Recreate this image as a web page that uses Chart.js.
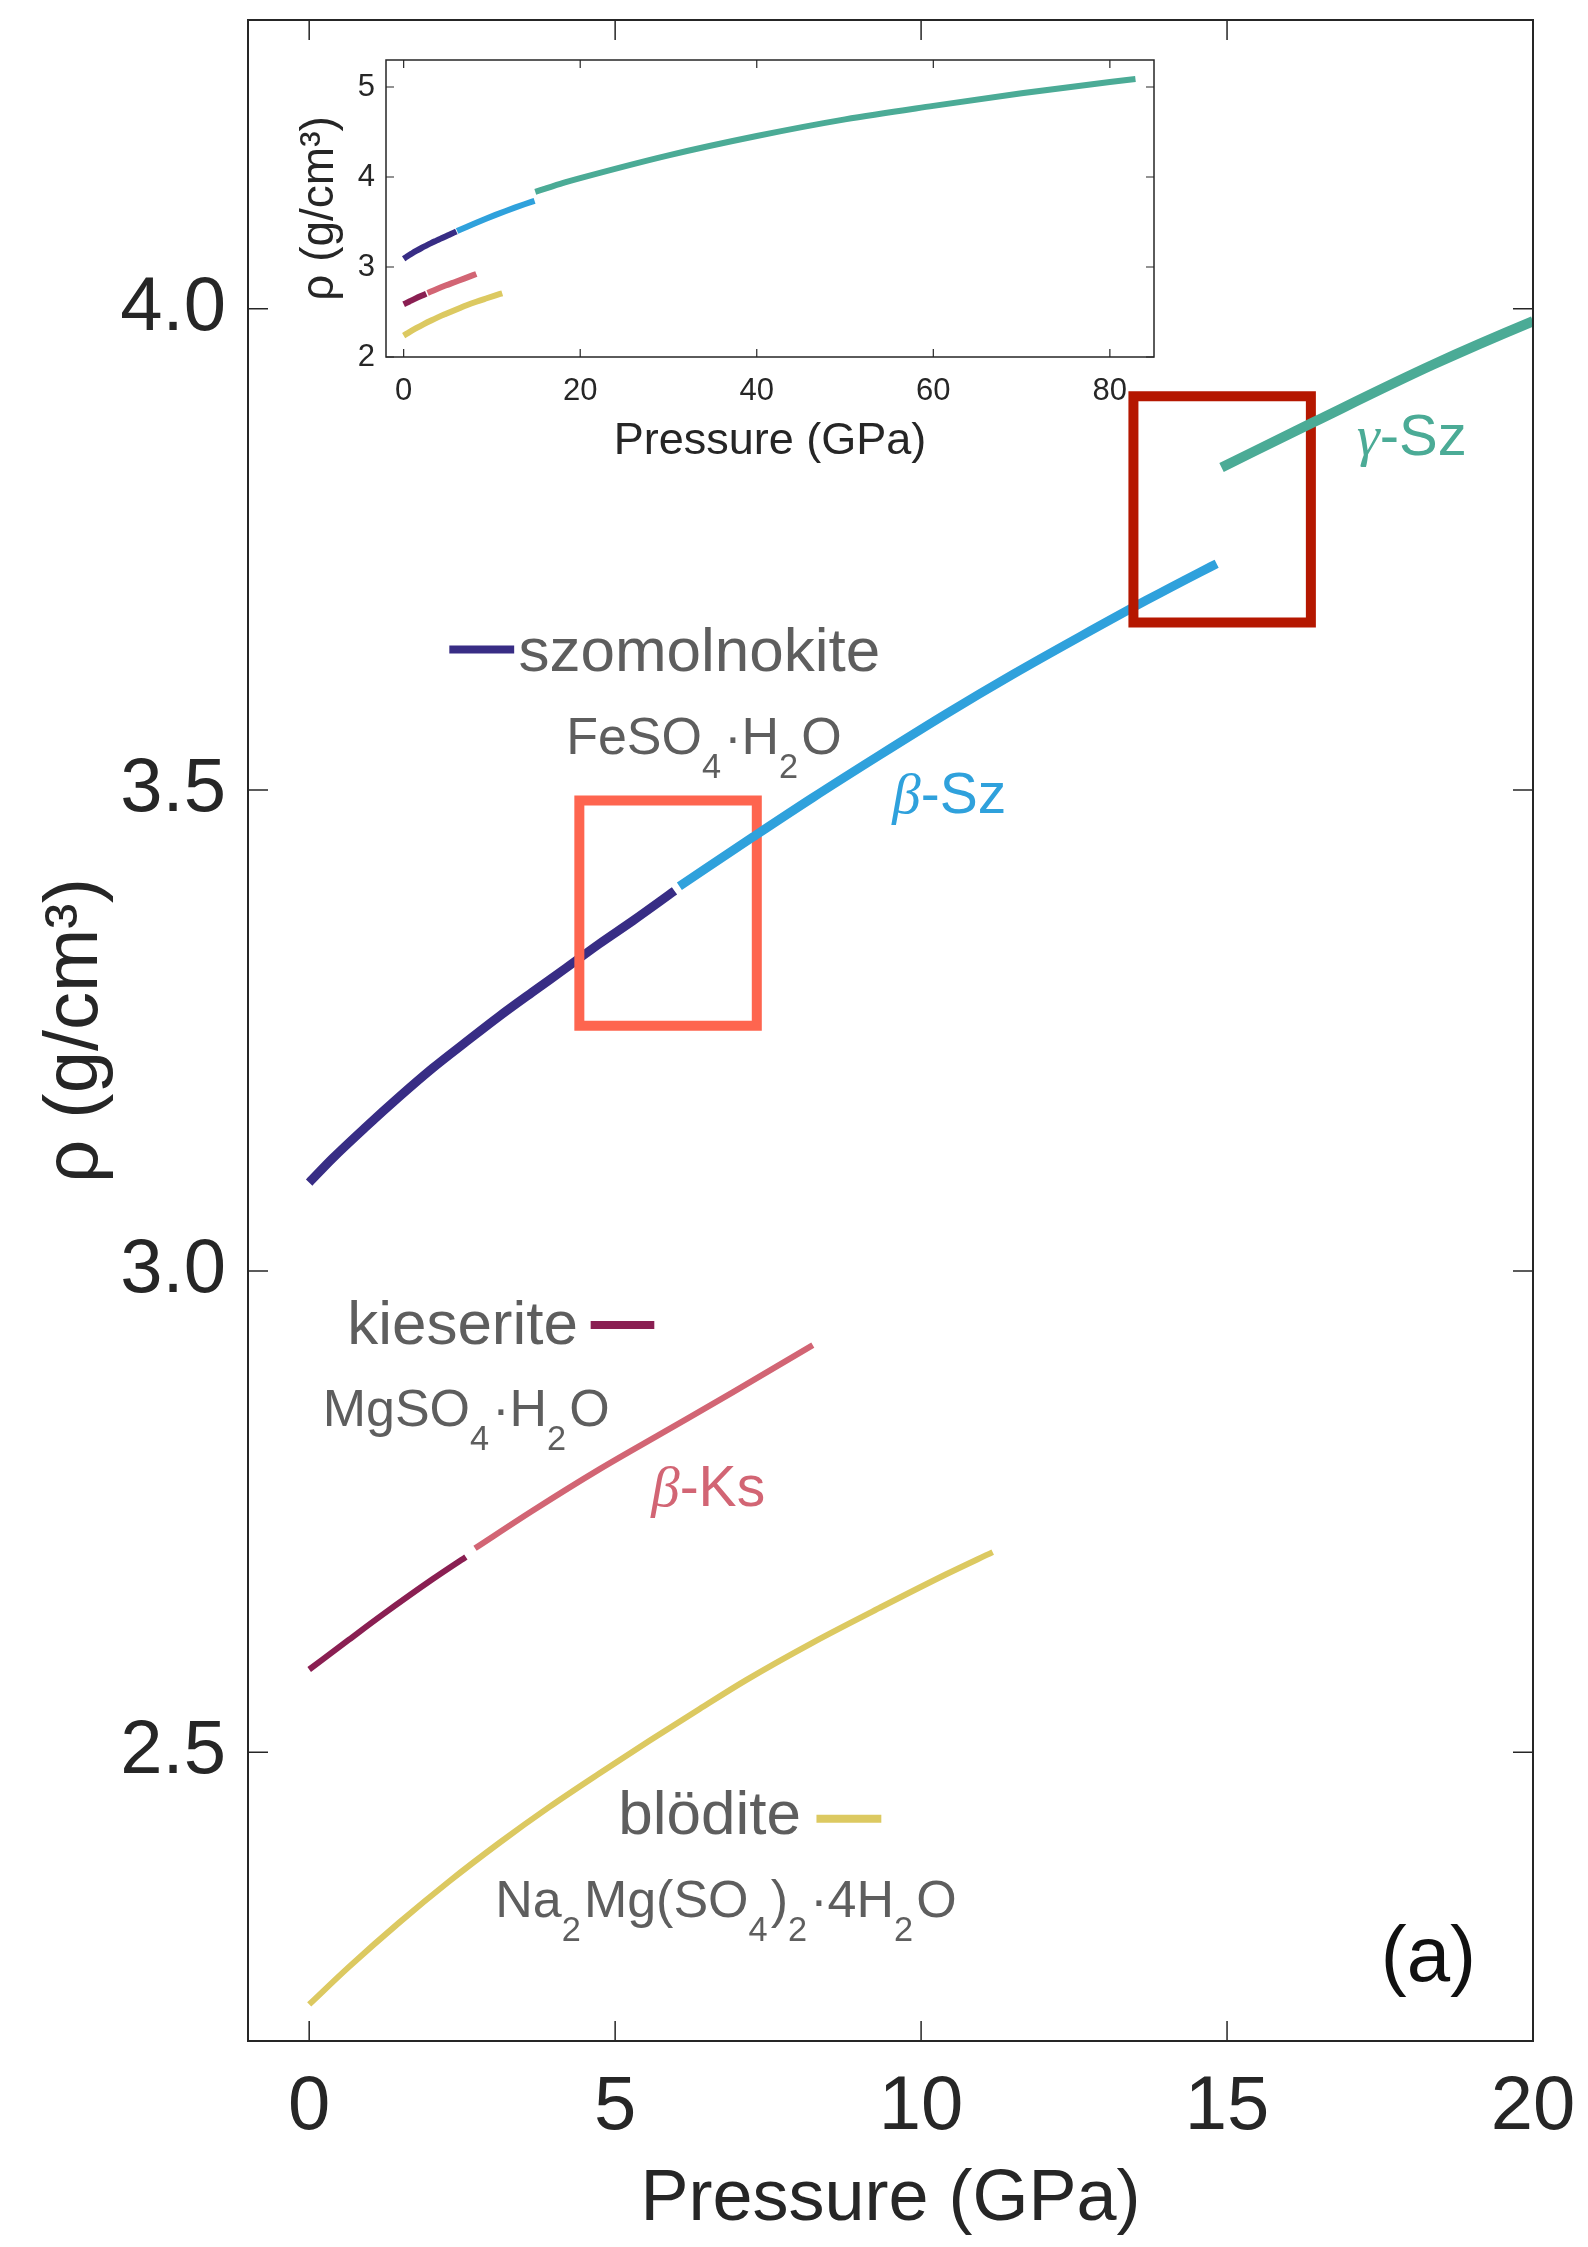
<!DOCTYPE html>
<html>
<head>
<meta charset="utf-8">
<title>Densidade vs pressão</title>
<script src="https://cdn.jsdelivr.net/npm/chart.js@4.4.1/dist/chart.umd.min.js"></script>
<style>
  html, body { margin: 0; padding: 0; background: #fff; }
  #wrap { position: relative; width: 1588px; height: 2247px; }
  canvas { position: absolute; }
</style>
</head>
<body>
<div id="wrap">
  <canvas id="main" width="1588" height="2247" style="left:0;top:0"></canvas>
  <canvas id="inset" width="880" height="420" style="left:290px;top:50px"></canvas>
</div>
<script>
// Dados (P em GPa, rho em g/cm3)
const szP   = [0, 0.38, 0.93, 1.47, 2.02, 2.56, 3.11, 3.65, 4.20, 4.74, 5.29, 5.97];
const szRho = [3.092, 3.117, 3.150, 3.181, 3.211, 3.238, 3.265, 3.290, 3.315, 3.340, 3.364, 3.395];

const betaSzP   = [6.05, 7.25, 8.23, 9.32, 10.41, 11.50, 12.59, 13.68, 14.55, 14.83];
const betaSzRho = [3.400, 3.451, 3.492, 3.536, 3.579, 3.620, 3.659, 3.697, 3.726, 3.735];

const gammaSzP   = [14.91, 16.41, 18.37, 20, 30, 40, 50, 60, 70, 80, 82.9];
const gammaSzRho = [3.835, 3.882, 3.942, 3.987, 4.24, 4.455, 4.64, 4.79, 4.93, 5.055, 5.09];

const ksP   = [0, 0.65, 1.20, 2.02, 2.56];
const ksRho = [2.586, 2.617, 2.643, 2.680, 2.703];

const betaKsP   = [2.71, 3.65, 4.74, 5.83, 6.92, 8.23];
const betaKsRho = [2.712, 2.751, 2.794, 2.834, 2.874, 2.923];

const bloP   = [0, 0.65, 1.47, 2.29, 3.11, 3.92, 4.74, 5.56, 6.38, 7.14, 8.23, 9.32, 10.41, 11.17];
const bloRho = [2.238, 2.277, 2.323, 2.366, 2.406, 2.443, 2.478, 2.512, 2.545, 2.575, 2.614, 2.650, 2.685, 2.708];

// caixas de transição (P min/max, rho min/max)
const box1P = [4.415, 7.315];
const box1Rho = [3.255, 3.489];
const box2P = [13.47, 16.37];
const box2Rho = [3.674, 3.909];

// ticks
const xTicks = [0, 5, 10, 15, 20];
const yTicks = [2.5, 3.0, 3.5, 4.0];
const insetXTicks = [0, 20, 40, 60, 80];
const insetYTicks = [2, 3, 4, 5];

// cores
const C = {
  sz: "#382d85",
  betaSz: "#2fa1dc",
  gammaSz: "#4bab96",
  ks: "#8a1f52",
  betaKs: "#d26574",
  blo: "#dcc961",
  box1: "#fe654f",
  box2: "#b51700",
  text: "#5e5e5e",
  axis: "#262626"
};
const SANS = "'Liberation Sans', Arial, Helvetica, sans-serif";
const SERIF = "'Liberation Serif', 'Times New Roman', serif";

const pts = (xs, ys) => xs.map((x, i) => ({ x: x, y: ys[i] }));

function linha(xs, ys, cor, largura, ordem) {
  return {
    data: pts(xs, ys),
    showLine: true,
    borderColor: cor,
    borderWidth: largura,
    pointRadius: 0,
    cubicInterpolationMode: "monotone",
    clip: 0,
    order: ordem
  };
}

function caixa(px, ry, cor, ordem) {
  return {
    data: pts([px[0], px[1], px[1], px[0], px[0]], [ry[0], ry[0], ry[1], ry[1], ry[0]]),
    showLine: true,
    borderColor: cor,
    borderWidth: 10,
    borderJoinStyle: "miter",
    borderCapStyle: "square",
    pointRadius: 0,
    tension: 0,
    order: ordem
  };
}

// Moldura + ticks para dentro (estilo MATLAB)
const moldura = {
  id: "moldura",
  afterDatasetsDraw(chart, args, opts) {
    const { ctx, chartArea: a, scales } = chart;
    const sx = scales.x, sy = scales.y;
    ctx.save();
    ctx.strokeStyle = opts.color;
    ctx.lineWidth = opts.tickWidth;
    ctx.beginPath();
    sx.ticks.forEach(t => {
      const px = sx.getPixelForValue(t.value);
      ctx.moveTo(px, a.bottom); ctx.lineTo(px, a.bottom - opts.tick);
      ctx.moveTo(px, a.top); ctx.lineTo(px, a.top + opts.tick);
    });
    sy.ticks.forEach(t => {
      const py = sy.getPixelForValue(t.value);
      ctx.moveTo(a.left, py); ctx.lineTo(a.left + opts.tick, py);
      ctx.moveTo(a.right, py); ctx.lineTo(a.right - opts.tick, py);
    });
    ctx.stroke();
    ctx.lineWidth = opts.width;
    ctx.strokeRect(a.left, a.top, a.right - a.left, a.bottom - a.top);
    ctx.restore();
  }
};

// texto com subscritos
function textoRico(ctx, partes, x, y, size, cor) {
  let cx = x;
  ctx.fillStyle = cor;
  ctx.textBaseline = "alphabetic";
  ctx.textAlign = "left";
  partes.forEach(p => {
    const s = p.sub ? size * 0.66 : size;
    ctx.font = (p.italic ? "italic " : "") + s + "px " + (p.serif ? SERIF : SANS);
    const dy = p.sub ? size * 0.46 : 0;
    ctx.fillText(p.t, cx, y + dy);
    cx += ctx.measureText(p.t).width + (p.sub ? size * 0.06 : 0);
  });
}

// Anotações do gráfico principal (posições em unidades dos eixos)
const notas = [
  { x: 3.42, y: 3.624, size: 62, cor: C.text, partes: [{ t: "szomolnokite" }] },
  { x: 4.20, y: 3.537, size: 52, cor: C.text, partes: [{ t: "FeSO" }, { t: "4", sub: true }, { t: "·H" }, { t: "2", sub: true }, { t: "O" }] },
  { x: 9.53, y: 3.476, size: 57, cor: C.betaSz, partes: [{ t: "β", italic: true, serif: true }, { t: "-Sz" }] },
  { x: 17.12, y: 3.848, size: 58, cor: C.gammaSz, partes: [{ t: "γ", italic: true, serif: true }, { t: "-Sz" }] },
  { x: 0.62, y: 2.924, size: 62, cor: C.text, partes: [{ t: "kieserite" }] },
  { x: 0.22, y: 2.839, size: 52, cor: C.text, partes: [{ t: "MgSO" }, { t: "4", sub: true }, { t: "·H" }, { t: "2", sub: true }, { t: "O" }] },
  { x: 5.59, y: 2.756, size: 57, cor: C.betaKs, partes: [{ t: "β", italic: true, serif: true }, { t: "-Ks" }] },
  { x: 5.05, y: 2.415, size: 62, cor: C.text, partes: [{ t: "blödite" }] },
  { x: 3.04, y: 2.329, size: 52, cor: C.text, partes: [{ t: "Na" }, { t: "2", sub: true }, { t: "Mg(SO" }, { t: "4", sub: true }, { t: ")" }, { t: "2", sub: true }, { t: "·4H" }, { t: "2", sub: true }, { t: "O" }] }
];
const marcas = [
  { x0: 2.29, x1: 3.35, y: 3.646, cor: C.sz },
  { x0: 4.60, x1: 5.64, y: 2.944, cor: C.ks },
  { x0: 8.29, x1: 9.35, y: 2.431, cor: C.blo }
];

const anotacoes = {
  id: "anotacoes",
  afterDraw(chart) {
    const { ctx, scales: { x, y } } = chart;
    ctx.save();
    marcas.forEach(m => {
      ctx.strokeStyle = m.cor;
      ctx.lineWidth = 8;
      ctx.lineCap = "butt";
      ctx.beginPath();
      ctx.moveTo(x.getPixelForValue(m.x0), y.getPixelForValue(m.y));
      ctx.lineTo(x.getPixelForValue(m.x1), y.getPixelForValue(m.y));
      ctx.stroke();
    });
    notas.forEach(n => {
      textoRico(ctx, n.partes, x.getPixelForValue(n.x), y.getPixelForValue(n.y), n.size, n.cor);
    });
    // rótulo do painel
    ctx.fillStyle = "#111";
    ctx.font = "78px " + SANS;
    ctx.textAlign = "right";
    ctx.textBaseline = "alphabetic";
    ctx.fillText("(a)", x.getPixelForValue(19.07), y.getPixelForValue(2.262));
    ctx.restore();
  }
};

function eixoX(min, max, ticks, altura, fonte, pad, titulo, tituloPad, fmt) {
  return {
    type: "linear", min: min, max: max,
    afterBuildTicks: s => { s.ticks = ticks.map(v => ({ value: v })); },
    afterFit: s => { s.height = altura; s.paddingLeft = 0; s.paddingRight = 0; },
    grid: { display: false, drawTicks: false },
    border: { display: false },
    ticks: { color: C.axis, font: { family: SANS, size: fonte }, padding: pad, maxRotation: 0, autoSkip: false, callback: fmt },
    title: { display: true, text: "Pressure (GPa)", color: C.axis, font: { family: SANS, size: titulo }, padding: { top: 0, bottom: tituloPad } }
  };
}

function eixoY(min, max, ticks, largura, fonte, pad, titulo, tituloPad, fmt) {
  return {
    type: "linear", min: min, max: max,
    afterBuildTicks: s => { s.ticks = ticks.map(v => ({ value: v })); },
    afterFit: s => { s.width = largura; s.paddingTop = 0; s.paddingBottom = 0; },
    grid: { display: false, drawTicks: false },
    border: { display: false },
    ticks: { color: C.axis, font: { family: SANS, size: fonte }, padding: pad, autoSkip: false, callback: fmt },
    title: { display: true, text: "ρ (g/cm³)", color: C.axis, font: { family: SANS, size: titulo }, padding: { top: tituloPad, bottom: 0 } }
  };
}

// Gráfico principal
new Chart(document.getElementById("main"), {
  type: "scatter",
  data: {
    datasets: [
      linha(szP, szRho, C.sz, 9, 10),
      caixa(box1P, box1Rho, C.box1, 9),
      linha(betaSzP, betaSzRho, C.betaSz, 9, 8),
      caixa(box2P, box2Rho, C.box2, 7),
      linha(gammaSzP, gammaSzRho, C.gammaSz, 10, 6),
      linha(ksP, ksRho, C.ks, 6, 5),
      linha(betaKsP, betaKsRho, C.betaKs, 6, 4),
      linha(bloP, bloRho, C.blo, 6, 3)
    ]
  },
  options: {
    responsive: false,
    animation: false,
    devicePixelRatio: 1,
    layout: { padding: { top: 20, right: 55, bottom: 0, left: 0 } },
    plugins: {
      legend: { display: false },
      tooltip: { enabled: false },
      moldura: { color: C.axis, width: 2, tick: 20, tickWidth: 1.5 }
    },
    scales: {
      x: eixoX(-1, 20, xTicks, 206, 76, 21, 72, 4, v => String(v)),
      y: eixoY(2.2, 4.3, yTicks, 248, 76, 22, 76, 30, v => v.toFixed(1))
    }
  },
  plugins: [moldura, anotacoes]
});

// Gráfico inserido (faixa completa de pressão)
new Chart(document.getElementById("inset"), {
  type: "scatter",
  data: {
    datasets: [
      linha(szP, szRho, C.sz, 6, 6),
      linha(betaSzP, betaSzRho, C.betaSz, 6, 5),
      linha(gammaSzP, gammaSzRho, C.gammaSz, 6, 4),
      linha(ksP, ksRho, C.ks, 6, 3),
      linha(betaKsP, betaKsRho, C.betaKs, 6, 2),
      linha(bloP, bloRho, C.blo, 6, 1)
    ]
  },
  options: {
    responsive: false,
    animation: false,
    devicePixelRatio: 1,
    layout: { padding: { top: 10, right: 16, bottom: 0, left: 0 } },
    plugins: {
      legend: { display: false },
      tooltip: { enabled: false },
      moldura: { color: C.axis, width: 1.5, tick: 8, tickWidth: 1.2 }
    },
    scales: {
      x: eixoX(-2, 85, insetXTicks, 113, 31, 16, 45, 1, v => String(v)),
      y: eixoY(2, 5.3, insetYTicks, 96, 31, 11, 46, 3, v => String(v))
    }
  },
  plugins: [moldura]
});
</script>
</body>
</html>
